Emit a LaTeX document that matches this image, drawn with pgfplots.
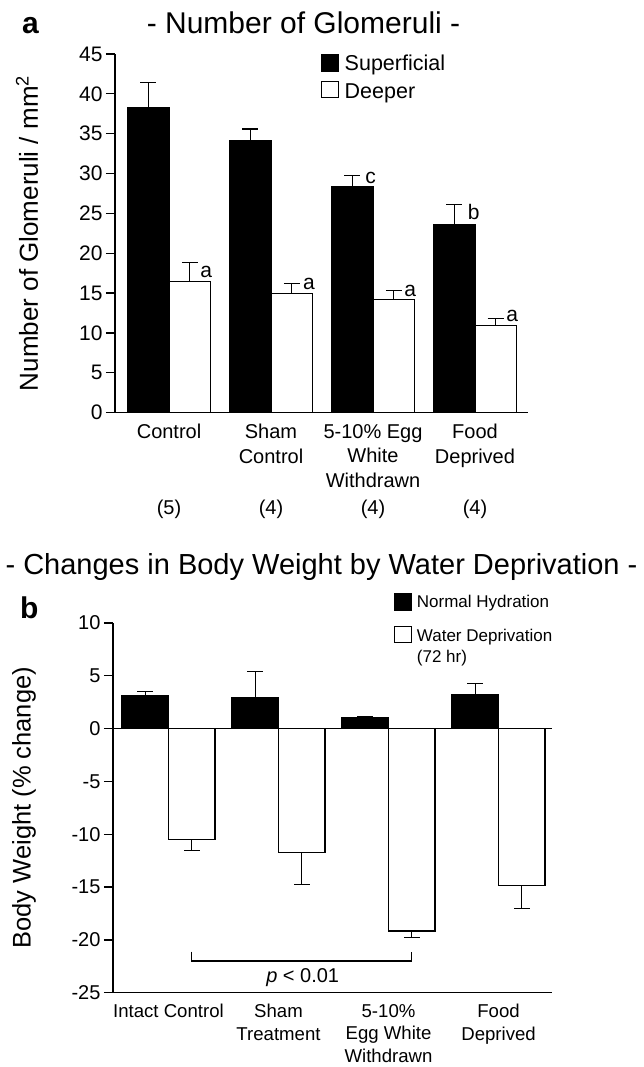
\documentclass[border=0pt]{standalone}
\usepackage{pgfplots}
\pgfplotsset{compat=1.18}
\usepackage{fontspec}
\setmainfont{Liberation Sans}
\begin{document}
\begin{tikzpicture}
\useasboundingbox (0,0) rectangle (643pt,1067pt);
\node[font=\fontsize{30}{32}\selectfont\bfseries, anchor=base west, inner sep=0pt] at (22pt,1033.7pt) {a};
\node[font=\fontsize{30}{32}\selectfont\bfseries, anchor=base west, inner sep=0pt] at (20pt,448.7pt) {b};
\node[font=\fontsize{30}{32}\selectfont, anchor=base, inner sep=0pt] at (303.5pt,1033.7pt) {- Number of Glomeruli -};
\node[font=\fontsize{29}{31}\selectfont, anchor=base, inner sep=0pt] at (321.5pt,492pt) {- Changes in Body Weight by Water Deprivation -};

% ---------------- panel a ----------------
\begin{axis}[
  at={(115pt,654.3pt)}, anchor=south west,
  scale only axis, width=413pt, height=358.7pt,
  xmin=-0.53, xmax=3.52, ymin=0, ymax=45,
  enlargelimits=false, clip=false,
  ybar=0pt, bar width=41.5pt,
  axis x line*=bottom, axis y line*=left,
  axis line style={line width=1.3pt, -},
  ytick={0,5,...,45},
  tick align=outside, major tick length=9pt,
  y tick style={line width=1.3pt, black},
  xtick={0,1,2,3},
  xticklabels={Control, {Sham\\Control}, {5-10\% Egg\\White\\Withdrawn}, {Food\\Deprived}},
  x tick style={draw=none},
  xticklabel style={align=center, font=\fontsize{20}{24.5}\selectfont, yshift=1pt},
  yticklabel style={font=\fontsize{21}{24}\selectfont},
  /pgf/number format/assume math mode=true,
  ylabel={Number of Glomeruli / mm\textsuperscript{2}},
  ylabel style={at={(axis description cs:-0.213,0.5)}, anchor=center, font=\fontsize{26}{28}\selectfont},
]
\addplot[fill=black, draw=black, line width=1.2pt,
  error bars/.cd, y dir=plus, y explicit,
  error bar style={line width=1.3pt, black},
  error mark options={rotate=90, mark size=8pt, line width=1.3pt, black}]
  table[x=x, y=y, y error=e] {
x y e
0 38.25 3.15
1 34.08 1.50
2 28.33 1.42
3 23.65 2.45
};
\addplot[fill=white, draw=black, line width=1.2pt,
  error bars/.cd, y dir=plus, y explicit,
  error bar style={line width=1.3pt, black},
  error mark options={rotate=90, mark size=8pt, line width=1.3pt, black}]
  table[x=x, y=y, y error=e] {
x y e
0 16.47 2.40
1 15.00 1.20
2 14.24 1.06
3 10.92 0.88
};
\begin{scope}[font=\fontsize{21}{24}\selectfont]
\node[anchor=base west, inner sep=0pt] at (axis cs:0.306,17.0) {a};
\node[anchor=base west, inner sep=0pt] at (axis cs:1.312,15.5) {a};
\node[anchor=base west, inner sep=0pt] at (axis cs:2.306,14.55) {a};
\node[anchor=base west, inner sep=0pt] at (axis cs:3.307,11.4) {a};
\node[anchor=base west, inner sep=0pt] at (axis cs:2.929,24.2) {b};
\node[anchor=base west, inner sep=0pt] at (axis cs:1.923,28.8) {c};
\end{scope}
\begin{scope}[font=\fontsize{20}{24}\selectfont]
\node at (axis cs:0,-12.08) {(5)};
\node at (axis cs:1,-12.08) {(4)};
\node at (axis cs:2,-12.08) {(4)};
\node at (axis cs:3,-12.08) {(4)};
\end{scope}
\end{axis}
% legend a
\draw[fill=black, line width=1pt] (321pt,995pt) rectangle (338.5pt,1012pt);
\node[anchor=base west, inner sep=0pt, font=\fontsize{21.5}{24}\selectfont] at (344.5pt,996.3pt) {Superficial};
\draw[fill=white, line width=1pt] (321pt,969pt) rectangle (338.5pt,985.5pt);
\node[anchor=base west, inner sep=0pt, font=\fontsize{21.5}{24}\selectfont] at (344.5pt,968.3pt) {Deeper};

% ---------------- panel b ----------------
\begin{axis}[
  at={(113pt,74.3pt)}, anchor=south west,
  scale only axis, width=438.8pt, height=369.7pt,
  xmin=-0.504, xmax=3.484, ymin=-25, ymax=10,
  enlargelimits=false, clip=false,
  ybar=0pt, bar width=46.5pt,
  axis x line*=bottom, axis y line*=left,
  axis line style={line width=1.3pt, -},
  ytick={-25,-20,-15,-10,-5,0,5,10},
  yticklabels={-25,-20,-15,-10,-5,0,5,10},
  tick align=outside, major tick length=9pt,
  y tick style={line width=1.3pt, black},
  xtick={0,1,2,3},
  xticklabels={Intact Control, {Sham\\Treatment}, {5-10\%\\Egg White\\Withdrawn}, {Food\\Deprived}},
  x tick style={draw=none},
  xticklabel style={align=center, font=\fontsize{18.6}{22.5}\selectfont, yshift=1pt},
  yticklabel style={font=\fontsize{20}{24}\selectfont},
  ylabel={Body Weight (\% change)},
  ylabel style={at={(axis description cs:-0.203,0.5)}, anchor=center, font=\fontsize{25.5}{28}\selectfont},
]
\draw[line width=1.3pt] ({rel axis cs:0,0}|-{axis cs:0,0}) -- ({rel axis cs:1,0}|-{axis cs:0,0});
\addplot[fill=black, draw=black, line width=1.2pt,
  error bars/.cd, y dir=plus, y explicit,
  error bar style={line width=1.3pt, black},
  error mark options={rotate=90, mark size=8pt, line width=1.3pt, black}]
  table[x=x, y=y, y error=e] {
x y e
0 3.16 0.34
1 2.97 2.47
2 1.09 0.0
3 3.22 1.06
};
\addplot[fill=white, draw=black, line width=1.2pt,
  error bars/.cd, y dir=minus, y explicit,
  error bar style={line width=1.3pt, black},
  error mark options={rotate=90, mark size=8pt, line width=1.3pt, black}]
  table[x=x, y=y, y error=e] {
x y e
0 -10.50 1.07
1 -11.76 2.99
2 -19.15 0.65
3 -14.87 2.13
};
\draw[line width=1.2pt] (axis cs:0.211,-21.1) -- (axis cs:0.211,-22) -- (axis cs:2.211,-22) -- (axis cs:2.211,-21.1);
\node[font=\fontsize{20}{24}\selectfont] at (axis cs:1.22,-23.6) {\textit{p} < 0.01};
\end{axis}
% legend b
\draw[fill=black, line width=1pt] (394.5pt,456pt) rectangle (411.5pt,473pt);
\node[anchor=base west, inner sep=0pt, font=\fontsize{17}{21}\selectfont] at (416.7pt,459.2pt) {Normal Hydration};
\draw[fill=white, line width=1pt] (394.5pt,424pt) rectangle (411.5pt,440pt);
\node[anchor=base west, inner sep=0pt, font=\fontsize{17}{21}\selectfont] at (416.7pt,425.9pt) {Water Deprivation};
\node[anchor=base west, inner sep=0pt, font=\fontsize{17}{21}\selectfont] at (416.7pt,404.2pt) {(72 hr)};
\end{tikzpicture}
\end{document}
